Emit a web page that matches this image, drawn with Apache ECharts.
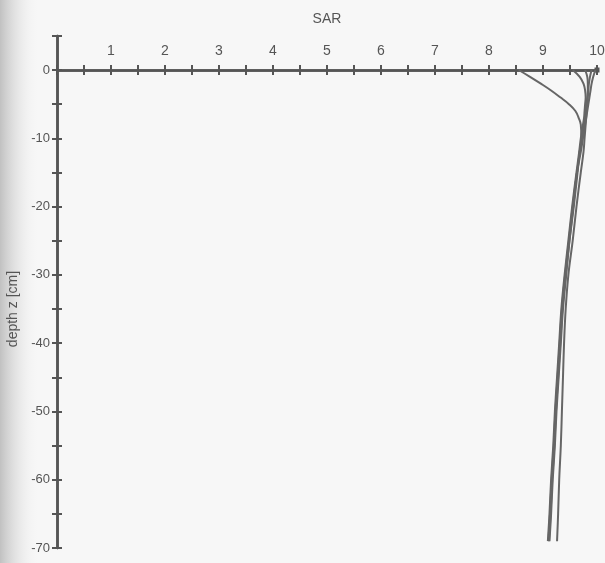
<!DOCTYPE html>
<html>
<head>
<meta charset="utf-8">
<script src="https://cdn.jsdelivr.net/npm/echarts@6/dist/echarts.min.js"></script>
<style>html,body{margin:0;padding:0;background:#f7f7f7;}#c{width:605px;height:563px;}</style>
</head>
<body>
<div id="c"></div>
<script>
// depth z [cm] (shared by all profiles)
const depth = [0,-1,-2,-3,-4,-5,-6,-7,-8,-10,-12,-15,-20,-25,-30,-35,-40,-45,-50,-55,-60,-65,-69];
// SAR profiles
const sarA = [8.55,8.76,8.96,9.15,9.32,9.48,9.6,9.66,9.7,9.71,9.68,9.63,9.55,9.48,9.41,9.35,9.31,9.27,9.23,9.2,9.16,9.13,9.1];
const sarB = [9.55,9.68,9.75,9.78,9.79,9.78,9.77,9.76,9.74,9.7,9.67,9.62,9.54,9.47,9.4,9.34,9.3,9.26,9.22,9.19,9.15,9.12,9.09];
const sarC = [9.78,9.82,9.83,9.83,9.82,9.8,9.79,9.78,9.76,9.72,9.68,9.64,9.57,9.49,9.42,9.36,9.32,9.28,9.24,9.21,9.17,9.14,9.11];
const sarD = [9.9,9.87,9.85,9.84,9.83,9.82,9.81,9.8,9.79,9.77,9.75,9.7,9.62,9.55,9.47,9.42,9.39,9.37,9.35,9.33,9.3,9.28,9.26];
const sarE = [9.97,9.93,9.9,9.88,9.86,9.84,9.82,9.8,9.78,9.74,9.7,9.63,9.56,9.49,9.43,9.37,9.33,9.29,9.25,9.22,9.18,9.15,9.12];
const profiles = [sarA, sarB, sarC, sarD, sarE];

const axisColor = '#555';
const font = 'Liberation Sans, Arial, sans-serif';
const lineSt = {color: axisColor, width: 2.5};
const tickSt = {color: axisColor, width: 2};

const chart = echarts.init(document.getElementById('c'), null, {renderer: 'canvas'});
chart.setOption({
  backgroundColor: '#f7f7f7',
  animation: false,
  graphic: [{
    type: 'rect', left: 0, top: 0, z: -10,
    shape: {width: 40, height: 563},
    style: {fill: new echarts.graphic.LinearGradient(0, 0, 1, 0, [
      {offset: 0, color: 'rgba(170,170,170,0.7)'},
      {offset: 1, color: 'rgba(247,247,247,0)'}
    ])}
  }],
  grid: [
    {left: 57, right: 8, top: 70, bottom: 15, containLabel: false, outerBoundsMode: 'none'},
    {left: 57, right: 8, top: 36, height: 34, containLabel: false, outerBoundsMode: 'none'}
  ],
  xAxis: [
    {
      gridIndex: 0, type: 'value', min: 0, max: 10, interval: 0.5, position: 'top',
      splitLine: {show: false},
      name: 'SAR', nameLocation: 'middle', nameGap: 44,
      nameTextStyle: {color: axisColor, fontSize: 14, fontFamily: font},
      axisLine: {onZero: false, lineStyle: lineSt, symbol: ['none', 'rect'], symbolSize: [5, 5]},
      axisTick: {show: true, inside: false, length: 5, lineStyle: tickSt},
      axisLabel: {color: axisColor, fontSize: 14, fontFamily: font, margin: 12,
        formatter: v => (v > 0 && Number.isInteger(v)) ? String(v) : ''}
    },
    {
      gridIndex: 0, type: 'value', min: 0, max: 10, interval: 0.5, position: 'top',
      splitLine: {show: false},
      axisLine: {onZero: false, lineStyle: lineSt},
      axisTick: {show: true, inside: true, length: 5, lineStyle: tickSt},
      axisLabel: {show: false}
    },
    {
      gridIndex: 1, type: 'value', min: 0, max: 10, show: false
    }
  ],
  yAxis: [
    {
      gridIndex: 0, type: 'value', min: -70, max: 0, interval: 5, position: 'left',
      splitLine: {show: false},
      name: 'depth z [cm]', nameLocation: 'middle', nameGap: 35,
      nameTextStyle: {color: axisColor, fontSize: 14, fontFamily: font},
      axisLine: {onZero: false, lineStyle: lineSt},
      axisTick: {show: true, inside: false, length: 5, lineStyle: tickSt},
      axisLabel: {color: axisColor, fontSize: 13, fontFamily: font, margin: 7,
        formatter: v => (v % 10 === 0) ? String(v) : ''}
    },
    {
      gridIndex: 0, type: 'value', min: -70, max: 0, interval: 5, position: 'left',
      splitLine: {show: false},
      axisLine: {onZero: false, lineStyle: lineSt},
      axisTick: {show: true, inside: true, length: 5, lineStyle: tickSt},
      axisLabel: {show: false}
    },
    {
      gridIndex: 1, type: 'value', min: 0, max: 5, interval: 5, position: 'left',
      splitLine: {show: false},
      axisLine: {onZero: false, lineStyle: lineSt},
      axisTick: {show: true, inside: false, length: 5, lineStyle: tickSt},
      axisLabel: {show: false}
    },
    {
      gridIndex: 1, type: 'value', min: 0, max: 5, interval: 5, position: 'left',
      splitLine: {show: false},
      axisLine: {onZero: false, lineStyle: lineSt},
      axisTick: {show: true, inside: true, length: 5, lineStyle: tickSt},
      axisLabel: {show: false}
    }
  ],
  series: profiles.map(p => ({
    type: 'line', xAxisIndex: 0, yAxisIndex: 0,
    data: p.map((v, i) => [v, depth[i]]),
    smooth: 0.4, showSymbol: false, symbol: 'none',
    lineStyle: {color: '#666', width: 2}
  }))
});
</script>
</body>
</html>
